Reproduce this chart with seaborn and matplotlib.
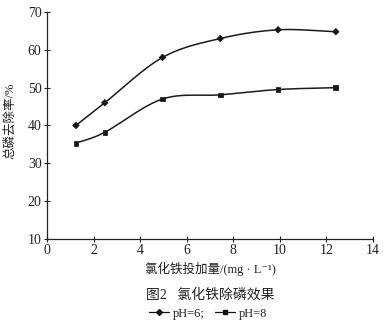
import numpy as np
import pandas as pd
import matplotlib
matplotlib.use("Agg")
import matplotlib.pyplot as plt
from matplotlib.lines import Line2D
import seaborn as sns

# Ferric chloride dose (mg/L) and total phosphorus removal (%)
dose = [1.24, 2.48, 4.96, 7.44, 9.92, 12.4]
removal_ph6 = [40.0, 46.0, 58.0, 63.0, 65.3, 64.8]
removal_ph8 = [35.3, 38.2, 47.0, 48.1, 49.5, 50.0]
series_labels = ["pH=6;", "pH=8"]
x_ticks = [0, 2, 4, 6, 8, 10, 12, 14]
y_ticks = [10, 20, 30, 40, 50, 60, 70]

sns.set_theme(style="white")
plt.rcParams["font.family"] = ["Liberation Serif", "Noto Sans CJK SC", "DejaVu Sans"]
plt.rcParams["axes.unicode_minus"] = False


def smooth(x, y, n=200):
    """Catmull-Rom curve through the measured points."""
    x = np.asarray(x, float)
    y = np.asarray(y, float)
    px = np.concatenate([[2 * x[0] - x[1]], x, [2 * x[-1] - x[-2]]])
    py = np.concatenate([[2 * y[0] - y[1]], y, [2 * y[-1] - y[-2]]])
    xs, ys = [], []
    for i in range(1, len(px) - 2):
        t = np.linspace(0, 1, n // (len(x) - 1), endpoint=False)
        t2, t3 = t * t, t * t * t
        for P, out in ((px, xs), (py, ys)):
            p0, p1, p2, p3 = P[i - 1], P[i], P[i + 1], P[i + 2]
            out.append(0.5 * (2 * p1 + (-p0 + p2) * t
                              + (2 * p0 - 5 * p1 + 4 * p2 - p3) * t2
                              + (-p0 + 3 * p1 - 3 * p2 + p3) * t3))
    xs.append([x[-1]])
    ys.append([y[-1]])
    return np.concatenate(xs), np.concatenate(ys)


fig = plt.figure(figsize=(3.89, 3.25), dpi=100)
ax = fig.add_axes([0.121, 0.265, 0.838, 0.698])

points = pd.DataFrame({
    "dose": dose * 2,
    "removal": removal_ph6 + removal_ph8,
    "series": [series_labels[0]] * len(dose) + [series_labels[1]] * len(dose),
})

for vals in (removal_ph6, removal_ph8):
    sx, sy = smooth(dose, vals)
    curve = pd.DataFrame({"dose": sx, "removal": sy})
    sns.lineplot(data=curve, x="dose", y="removal", ax=ax, color="#1a1a1a",
                 lw=1.1, sort=False, legend=False)

sns.scatterplot(data=points, x="dose", y="removal", style="series",
                markers={series_labels[0]: "D", series_labels[1]: "s"},
                s=11, color="#111111", edgecolor="#111111", linewidth=0.5,
                ax=ax, legend=False)

ax.set_xlim(0, 14)
ax.set_ylim(10, 70)
ax.set_xticks(x_ticks)
ax.set_yticks(y_ticks)
ax.tick_params(axis="both", direction="inout", length=4, width=0.8,
               colors="#222222", labelsize=10, pad=2, bottom=True, left=True)
for side in ("top", "right"):
    ax.spines[side].set_visible(False)
for side in ("left", "bottom"):
    ax.spines[side].set_color("#222222")
    ax.spines[side].set_linewidth(0.9)

ax.set_xlabel("氯化铁投加量/(mg · L⁻¹)", fontsize=9, labelpad=3,
              color="#222222")
ax.set_ylabel("总磷去除率/%", fontsize=9, color="#222222")
ax.yaxis.set_label_coords(-0.095, 0.52)

fig.text(0.54, 0.093, "图2   氯化铁除磷效果", ha="center", va="center",
         fontsize=10, color="#222222")

handles = [
    Line2D([], [], color="#111111", lw=0.9, marker="D", markersize=3),
    Line2D([], [], color="#111111", lw=0.9, marker="s", markersize=3.5),
]
fig.legend(handles, series_labels, loc="center", bbox_to_anchor=(0.535, 0.035),
           ncol=2, frameon=False, fontsize=9, handlelength=1.6,
           handletextpad=0.3, columnspacing=0.8, labelcolor="#222222")

fig.savefig("out.png", dpi=100)
